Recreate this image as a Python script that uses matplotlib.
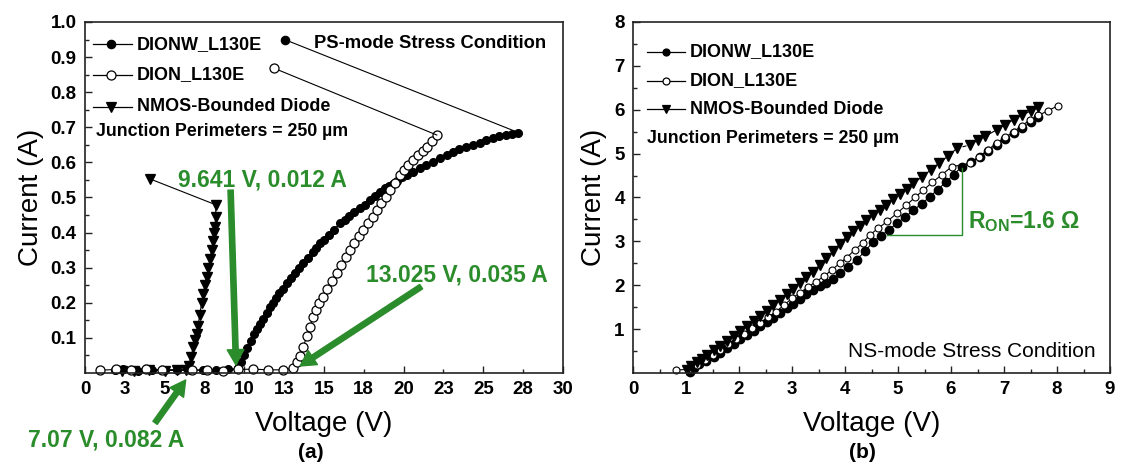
import matplotlib
matplotlib.use('Agg')
import matplotlib.pyplot as plt

plt.rcParams['font.family'] = ['Liberation Sans', 'DejaVu Sans']
plt.rcParams['mathtext.fontset'] = 'custom'
plt.rcParams['mathtext.bf'] = 'Liberation Sans:bold'
plt.rcParams['mathtext.rm'] = 'Liberation Sans'

GREEN = '#2b8c2b'

# (a) PS-mode stress, voltage (V) / current (A)
dionw_ps_v = [1.9, 2.4, 3.3, 4.2, 5.0, 5.8, 6.6, 7.4, 8.2, 9.0,
              9.62, 9.8, 10.0, 10.2, 10.4, 10.6, 10.8, 11.0, 11.2, 11.4, 11.6, 11.8,
              12.0, 12.2, 12.4, 12.66, 12.9, 13.2, 13.45, 13.7, 14.0, 14.3, 14.5,
              14.75, 15.0, 15.3, 15.6, 16.0, 16.3, 16.6, 16.9, 17.26, 17.6, 17.9,
              18.2, 18.52, 18.8, 19.1, 19.35, 19.6, 19.9, 20.2, 20.6, 21.0, 21.4,
              21.86, 22.3, 22.7, 23.1, 23.5, 23.9, 24.38, 24.8, 25.2, 25.6, 26.0,
              26.4, 26.8, 27.2]
dionw_ps_i = [0.008, 0.010, 0.007, 0.009, 0.008, 0.009, 0.008, 0.008, 0.009, 0.010,
              0.013, 0.03, 0.05, 0.07, 0.09, 0.11, 0.125, 0.14, 0.155, 0.17, 0.189, 0.20,
              0.215, 0.228, 0.24, 0.255, 0.27, 0.285, 0.298, 0.312, 0.328, 0.345, 0.356,
              0.369, 0.38, 0.393, 0.408, 0.426, 0.437, 0.448, 0.458, 0.469, 0.48, 0.492,
              0.505, 0.516, 0.526, 0.532, 0.538, 0.548, 0.557, 0.565, 0.574, 0.584, 0.592,
              0.602, 0.612, 0.622, 0.630, 0.637, 0.643, 0.650, 0.656, 0.663, 0.669, 0.674,
              0.678, 0.682, 0.685]

dion_ps_v = [0.94, 1.95, 2.87, 3.83, 4.81, 6.70, 7.64, 8.64, 9.58, 10.57, 11.51, 12.45, 13.08,
             13.3, 13.5, 13.7, 13.92, 14.1, 14.33, 14.5, 14.7, 14.96, 15.2, 15.5, 15.8,
             16.1, 16.4, 16.64, 16.9, 17.2, 17.47, 17.75, 18.05, 18.31, 18.6, 18.9, 19.15,
             19.45, 19.77, 20.05, 20.3, 20.6, 20.9, 21.2, 21.45, 21.75, 22.08]
dion_ps_i = [0.008, 0.010, 0.008, 0.010, 0.009, 0.009, 0.008, 0.007, 0.010, 0.011, 0.009, 0.009, 0.014,
             0.03, 0.047, 0.075, 0.104, 0.13, 0.16, 0.18, 0.20, 0.217, 0.24, 0.262, 0.284,
             0.307, 0.33, 0.35, 0.37, 0.39, 0.407, 0.426, 0.445, 0.464, 0.483, 0.502, 0.521,
             0.542, 0.564, 0.579, 0.593, 0.607, 0.62, 0.633, 0.645, 0.66, 0.678]

nmos_ps_v = [2.3, 3.1, 4.0, 5.0, 5.8, 6.35, 6.5, 6.65, 6.8, 6.92, 7.01, 7.1, 7.2, 7.32,
             7.42, 7.53, 7.64, 7.75, 7.85, 7.95, 8.03, 8.1, 8.16, 8.2, 8.22]
nmos_ps_i = [0.006, 0.007, 0.008, 0.007, 0.008, 0.008, 0.02, 0.045, 0.075, 0.095, 0.11, 0.135,
             0.165, 0.199, 0.225, 0.25, 0.274, 0.30, 0.325, 0.35, 0.375, 0.40, 0.417, 0.445, 0.479]

# label points joined to the curve ends
tag_v = [12.53, 11.88, 4.08]
tag_i = [0.950, 0.868, 0.553]

# (b) NS-mode stress
dionw_ns_v = [1.08, 1.15, 1.25, 1.38, 1.52, 1.65, 1.78, 1.9, 2.02, 2.15, 2.28, 2.4, 2.52,
              2.65, 2.77, 2.9, 3.02, 3.15, 3.27, 3.40, 3.52, 3.65, 3.78, 3.91, 4.05, 4.22,
              4.38, 4.53, 4.68, 4.83, 4.98, 5.14, 5.29, 5.45, 5.60, 5.75, 5.9, 6.05, 6.20,
              6.38, 6.55, 6.7, 6.86, 7.02, 7.18, 7.33, 7.5, 7.65]
dionw_ns_i = [0.03, 0.12, 0.2, 0.28, 0.37, 0.46, 0.56, 0.66, 0.77, 0.87, 0.96, 1.06, 1.16,
              1.26, 1.36, 1.47, 1.58, 1.68, 1.79, 1.89, 1.98, 2.06, 2.14, 2.27, 2.42, 2.58,
              2.78, 2.99, 3.13, 3.27, 3.41, 3.56, 3.71, 3.86, 4.02, 4.18, 4.35, 4.52, 4.70,
              4.82, 4.93, 5.06, 5.19, 5.33, 5.46, 5.58, 5.71, 5.84]

dion_ns_v = [0.81, 1.05, 1.2, 1.35, 1.5, 1.65, 1.8, 1.95, 2.1, 2.25, 2.4, 2.55, 2.7, 2.85,
             3.0, 3.15, 3.3, 3.45, 3.6, 3.75, 3.9, 4.03, 4.18, 4.33, 4.47, 4.63, 4.8, 4.98,
             5.15, 5.32, 5.48, 5.65, 5.83, 6.01, 6.36, 6.52, 6.69, 6.86, 7.02, 7.18, 7.33,
             7.49, 7.65, 7.83, 8.02]
dion_ns_i = [0.07, 0.08, 0.18, 0.3, 0.42, 0.53, 0.65, 0.77, 0.9, 1.02, 1.14, 1.27, 1.40, 1.55,
             1.70, 1.83, 1.96, 2.08, 2.2, 2.35, 2.5, 2.63, 2.80, 2.96, 3.15, 3.30, 3.46, 3.64,
             3.82, 4.0, 4.17, 4.35, 4.52, 4.70, 4.78, 4.92, 5.08, 5.24, 5.37, 5.5, 5.63,
             5.77, 5.87, 5.98, 6.09]

nmos_ns_v1 = [1.01, 1.1, 1.2, 1.3, 1.4, 1.52, 1.65, 1.78, 1.9, 2.02, 2.15, 2.28, 2.4, 2.52,
              2.65, 2.77, 2.9, 3.02, 3.15, 3.27, 3.40, 3.52, 3.65, 3.78, 3.9, 4.03, 4.15,
              4.28, 4.4, 4.53, 4.66, 4.78, 4.91, 5.04, 5.16, 5.29, 5.45, 5.62, 5.78, 5.95, 6.11]
nmos_ns_i1 = [0.07, 0.15, 0.25, 0.33, 0.42, 0.52, 0.62, 0.73, 0.84, 0.95, 1.06, 1.18, 1.30, 1.42,
              1.54, 1.66, 1.79, 1.92, 2.05, 2.18, 2.31, 2.46, 2.62, 2.78, 2.95, 3.11, 3.23,
              3.35, 3.48, 3.60, 3.72, 3.84, 3.96, 4.08, 4.20, 4.32, 4.47, 4.63, 4.79, 4.95, 5.12]
nmos_ns_v2 = [6.36, 6.5, 6.65, 6.86, 7.02, 7.18, 7.33, 7.5, 7.65]
nmos_ns_i2 = [5.20, 5.30, 5.40, 5.54, 5.66, 5.77, 5.87, 5.97, 6.06]

labels = ['DIONW_L130E', 'DION_L130E', 'NMOS-Bounded Diode']

fig = plt.figure(figsize=(11.21, 4.68), dpi=100)
ax_a = fig.add_axes([0.0758, 0.2030, 0.4264, 0.75])
ax_b = fig.add_axes([0.5647, 0.2030, 0.4255, 0.75])


def style(ax):
    for s in ax.spines.values():
        s.set_linewidth(1.2)
        s.set_color('#222222')
    ax.tick_params(which='both', direction='in', top=False, right=False,
                   labelsize=13.5, pad=6, width=1, color='#222222')
    ax.tick_params(which='major', length=5)
    ax.tick_params(which='minor', length=3)
    for t in ax.get_xticklabels(which='both') + ax.get_yticklabels(which='both'):
        t.set_fontweight('bold')
    ax.set_xlabel('Voltage (V)', fontsize=20, labelpad=9)
    ax.set_ylabel('Current (A)', fontsize=20, labelpad=5)


def key(ax, x0, x1, xm, y, text, marker, mfc, ms):
    ax.plot([x0, x1], [y, y], color='k', lw=0.9, transform=ax.transAxes, clip_on=False)
    ax.plot([xm], [y], marker=marker, mfc=mfc, mec='k', ms=ms, mew=0.9,
            transform=ax.transAxes, clip_on=False)
    ax.text(x1 + 0.01, y, text, transform=ax.transAxes, fontsize=13,
            fontweight='bold', va='center', ha='left')


# ---- (a)
ax = ax_a
ax.plot(nmos_ps_v, nmos_ps_i, '-', color='k', lw=0.8, marker='v', ms=7.5, mfc='k', mec='k', clip_on=False)
ax.plot(dionw_ps_v, dionw_ps_i, '-', color='k', lw=0.8, marker='o', ms=5.5, mfc='k', mec='k', clip_on=False)
ax.plot(dion_ps_v, dion_ps_i, '-', color='k', lw=0.8, marker='o', ms=6.5, mfc='white', mec='k',
        mew=0.9, clip_on=False)
ends = [(dionw_ps_v[-1], dionw_ps_i[-1]), (dion_ps_v[-1], dion_ps_i[-1]), (nmos_ps_v[-1], nmos_ps_i[-1])]
tag_style = [('o', 'k', 6), ('o', 'white', 6.5), ('v', 'k', 7.5)]
for (ev, ei), tv, ti, (mk, fc, ms) in zip(ends, tag_v, tag_i, tag_style):
    ax.plot([ev, tv], [ei, ti], color='k', lw=0.8)
    ax.plot([tv], [ti], marker=mk, mfc=fc, mec='k', ms=ms, mew=0.9)

ax.set_xlim(0, 30)
ax.set_ylim(0, 1.0)
ax.set_xticks([0, 5, 10, 15, 20, 25, 30], ['0', '5', '10', '15', '20', '25', '30'])
ax.set_xticks([2.5, 7.5, 12.5, 17.5, 22.5, 27.5], ['3', '8', '13', '18', '23', '28'], minor=True)
ax.set_yticks([0.1, 0.2, 0.3, 0.4, 0.5, 0.6, 0.7, 0.8, 0.9, 1.0],
              ['0.1', '0.2', '0.3', '0.4', '0.5', '0.6', '0.7', '0.8', '0.9', '1.0'])
ax.set_yticks([0.05, 0.15, 0.25, 0.35, 0.45, 0.55, 0.65, 0.75, 0.85, 0.95], minor=True)
style(ax)

key(ax, 0.017, 0.098, 0.055, 0.937, labels[0], 'o', 'k', 6)
key(ax, 0.017, 0.098, 0.055, 0.849, labels[1], 'o', 'white', 6.5)
key(ax, 0.017, 0.098, 0.055, 0.758, labels[2], 'v', 'k', 7.5)
ax.text(0.023, 0.687, 'Junction Perimeters = 250 µm', transform=ax.transAxes,
        fontsize=12.8, fontweight='bold', va='center')
ax.text(0.479, 0.940, 'PS-mode Stress Condition', transform=ax.transAxes,
        fontsize=13.2, fontweight='bold', va='center')

arrow = dict(facecolor=GREEN, edgecolor=GREEN, width=3.8, headwidth=12, headlength=11, shrink=0)
ax.annotate('', xy=(9.48, 0.023), xytext=(9.14, 0.521), arrowprops=arrow)
ax.annotate('', xy=(13.5, 0.02), xytext=(21.1, 0.246), arrowprops=arrow)
ax.annotate('', xy=(6.32, -0.02), xytext=(4.4, -0.142), arrowprops=arrow, annotation_clip=False)
ax.text(11.11, 0.55, '9.641 V, 0.012 A', color=GREEN, fontsize=16.5, fontweight='bold',
        ha='center', va='center')
ax.text(23.35, 0.279, '13.025 V, 0.035 A', color=GREEN, fontsize=16.5, fontweight='bold',
        ha='center', va='center')
ax.text(1.3, -0.19, '7.07 V, 0.082 A', color=GREEN, fontsize=16.5, fontweight='bold',
        ha='center', va='center', clip_on=False)

# ---- (b)
ax = ax_b
ax.plot(dionw_ns_v, dionw_ns_i, '-', color='k', lw=0.8, marker='o', ms=6, mfc='k', mec='k', clip_on=False)
ax.plot(dion_ns_v, dion_ns_i, '-', color='k', lw=0.8, marker='o', ms=5, mfc='white', mec='k',
        mew=0.8, clip_on=False)
ax.plot(nmos_ns_v1, nmos_ns_i1, '-', color='k', lw=0.8, marker='v', ms=7, mfc='k', mec='k', clip_on=False)
ax.plot(nmos_ns_v2, nmos_ns_i2, '-', color='k', lw=0.8, marker='v', ms=7, mfc='k', mec='k', clip_on=False)
ax.plot([nmos_ns_v1[-1], nmos_ns_v2[0]], [nmos_ns_i1[-1], nmos_ns_i2[0]], '--', color='k', lw=0.8)

ax.set_xlim(0, 9)
ax.set_ylim(0, 8)
ax.set_xticks(range(10))
ax.set_xticks([0.5 + k for k in range(9)], minor=True)
ax.set_yticks(range(1, 9))
ax.set_yticks([0.5 + k for k in range(8)], minor=True)
style(ax)

key(ax, 0.029, 0.109, 0.069, 0.915, labels[0], 'o', 'k', 5)
key(ax, 0.029, 0.109, 0.069, 0.832, labels[1], 'o', 'white', 5)
key(ax, 0.029, 0.109, 0.069, 0.752, labels[2], 'v', 'k', 5.5)
ax.text(0.029, 0.667, 'Junction Perimeters = 250 µm', transform=ax.transAxes,
        fontsize=12.8, fontweight='bold', va='center')
ax.text(0.969, 0.06, 'NS-mode Stress Condition', transform=ax.transAxes,
        fontsize=15, ha='right', va='center')

ax.plot([4.79, 6.20, 6.20], [3.15, 3.15, 4.67], color=GREEN, lw=1.0)
ax.text(6.32, 3.45, r'$\mathbf{R_{ON}}$=1.6 Ω', color=GREEN, fontsize=16.5, fontweight='bold',
        ha='left', va='center')

fig.text(311 / 1121, 1 - 453 / 468, '(a)', fontsize=15, fontweight='bold', ha='center', va='center')
fig.text(862 / 1121, 1 - 453 / 468, '(b)', fontsize=15, fontweight='bold', ha='center', va='center')

fig.savefig('out.png', dpi=100)
